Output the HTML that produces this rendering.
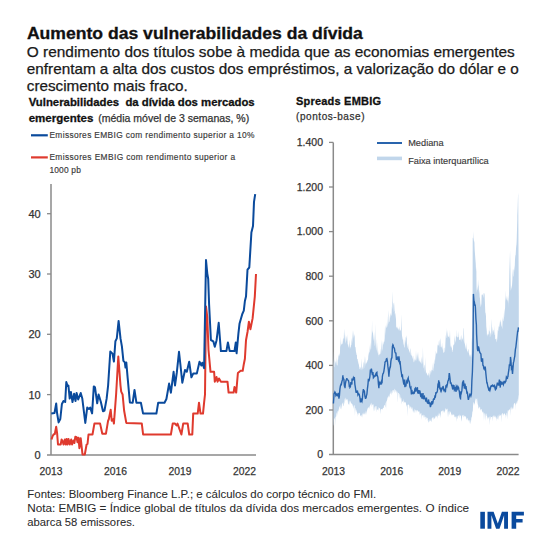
<!DOCTYPE html>
<html><head><meta charset="utf-8"><style>html,body{margin:0;padding:0;background:#fff;width:550px;height:550px;overflow:hidden}svg{display:block}</style></head>
<body><svg width="550" height="550" viewBox="0 0 550 550" font-family="Liberation Sans"><text x="26.9" y="38.6" font-size="16.5" font-weight="bold" fill="#111" text-anchor="start" textLength="336" lengthAdjust="spacingAndGlyphs" stroke="#111" stroke-width="0.3">Aumento das vulnerabilidades da dívida</text>
<text x="26.8" y="56.9" font-size="14.2" font-weight="normal" fill="#1a1a1a" text-anchor="start" textLength="488" lengthAdjust="spacingAndGlyphs" stroke="#1a1a1a" stroke-width="0.25">O rendimento dos títulos sobe à medida que as economias emergentes</text>
<text x="26.8" y="73.8" font-size="14.2" font-weight="normal" fill="#1a1a1a" text-anchor="start" textLength="492" lengthAdjust="spacingAndGlyphs" stroke="#1a1a1a" stroke-width="0.25">enfrentam a alta dos custos dos empréstimos, a valorização do dólar e o</text>
<text x="26.8" y="90.8" font-size="14.2" font-weight="normal" fill="#1a1a1a" text-anchor="start" textLength="161" lengthAdjust="spacingAndGlyphs" stroke="#1a1a1a" stroke-width="0.25">crescimento mais fraco.</text>
<text x="28.7" y="106.0" font-size="11.6" font-weight="bold" fill="#111" text-anchor="start" textLength="226" lengthAdjust="spacingAndGlyphs" stroke="#111" stroke-width="0.3">Vulnerabilidades&#160; da dívida dos mercados</text>
<text x="28.7" y="121.9" font-size="11.6" font-weight="bold" fill="#111" text-anchor="start" textLength="64.7" lengthAdjust="spacingAndGlyphs" stroke="#111" stroke-width="0.3">emergentes</text>
<text x="98.2" y="121.9" font-size="10.6" font-weight="normal" fill="#333" text-anchor="start" textLength="151" lengthAdjust="spacingAndGlyphs" stroke="#333" stroke-width="0.25">(média móvel de 3 semanas, %)</text>
<line x1="31" y1="135.3" x2="47.8" y2="135.3" stroke="#0a4a9c" stroke-width="2.2"/>
<line x1="31" y1="157.4" x2="47.8" y2="157.4" stroke="#df3a2e" stroke-width="2.2"/>
<text x="49.4" y="138.1" font-size="8.4" font-weight="normal" fill="#383838" text-anchor="start" textLength="205" lengthAdjust="spacing" stroke="#383838" stroke-width="0.15">Emissores EMBIG com rendimento superior a 10%</text>
<text x="49.4" y="160.1" font-size="8.4" font-weight="normal" fill="#383838" text-anchor="start" textLength="185.7" lengthAdjust="spacing" stroke="#383838" stroke-width="0.15">Emissores EMBIG com rendimento superior a</text>
<text x="49.4" y="173.1" font-size="8.4" font-weight="normal" fill="#383838" text-anchor="start" textLength="31.5" lengthAdjust="spacing" stroke="#383838" stroke-width="0.15">1000 pb</text>
<text x="296" y="105.2" font-size="11" font-weight="bold" fill="#111" text-anchor="start" textLength="85" lengthAdjust="spacing" stroke="#111" stroke-width="0.3">Spreads EMBIG</text>
<text x="296" y="119.8" font-size="10" font-weight="normal" fill="#333" text-anchor="start" textLength="68.5" lengthAdjust="spacing" stroke="#333" stroke-width="0.25">(pontos-base)</text>
<line x1="377" y1="143" x2="402" y2="143" stroke="#2964ad" stroke-width="2"/>
<rect x="377" y="156.6" width="25" height="3.6" fill="#c1d6eb"/>
<text x="408.2" y="145.5" font-size="9.2" font-weight="normal" fill="#383838" text-anchor="start" textLength="35.4" lengthAdjust="spacing" stroke="#383838" stroke-width="0.15">Mediana</text>
<text x="408.2" y="164.2" font-size="9.2" font-weight="normal" fill="#383838" text-anchor="start" textLength="80.5" lengthAdjust="spacing" stroke="#383838" stroke-width="0.15">Faixa interquartílica</text>
<line x1="51" y1="184" x2="51" y2="455" stroke="#8a8a8a" stroke-width="1.5"/>
<line x1="47" y1="454.9" x2="256" y2="454.9" stroke="#8a8a8a" stroke-width="1.5"/>
<text x="40.7" y="458.79999999999995" font-size="11" font-weight="normal" fill="#333" text-anchor="end" stroke="#333" stroke-width="0.25">0</text>
<line x1="47" y1="394.6" x2="51" y2="394.6" stroke="#8a8a8a" stroke-width="1.3"/>
<text x="40.7" y="398.49999999999994" font-size="11" font-weight="normal" fill="#333" text-anchor="end" stroke="#333" stroke-width="0.25">10</text>
<line x1="47" y1="334.3" x2="51" y2="334.3" stroke="#8a8a8a" stroke-width="1.3"/>
<text x="40.7" y="338.19999999999993" font-size="11" font-weight="normal" fill="#333" text-anchor="end" stroke="#333" stroke-width="0.25">20</text>
<line x1="47" y1="274.0" x2="51" y2="274.0" stroke="#8a8a8a" stroke-width="1.3"/>
<text x="40.7" y="277.9" font-size="11" font-weight="normal" fill="#333" text-anchor="end" stroke="#333" stroke-width="0.25">30</text>
<line x1="47" y1="213.7" x2="51" y2="213.7" stroke="#8a8a8a" stroke-width="1.3"/>
<text x="40.7" y="217.6" font-size="11" font-weight="normal" fill="#333" text-anchor="end" stroke="#333" stroke-width="0.25">40</text>
<text x="51.1" y="475" font-size="11.5" font-weight="normal" fill="#333" text-anchor="middle" textLength="23" lengthAdjust="spacingAndGlyphs" stroke="#333" stroke-width="0.25">2013</text>
<text x="115.6" y="475" font-size="11.5" font-weight="normal" fill="#333" text-anchor="middle" textLength="23" lengthAdjust="spacingAndGlyphs" stroke="#333" stroke-width="0.25">2016</text>
<text x="180.1" y="475" font-size="11.5" font-weight="normal" fill="#333" text-anchor="middle" textLength="23" lengthAdjust="spacingAndGlyphs" stroke="#333" stroke-width="0.25">2019</text>
<text x="244.6" y="475" font-size="11.5" font-weight="normal" fill="#333" text-anchor="middle" textLength="23" lengthAdjust="spacingAndGlyphs" stroke="#333" stroke-width="0.25">2022</text>
<line x1="333.3" y1="142.4" x2="333.3" y2="455" stroke="#8a8a8a" stroke-width="1.5"/>
<line x1="329" y1="454.6" x2="518.6" y2="454.6" stroke="#8a8a8a" stroke-width="1.5"/>
<text x="323" y="458.40000000000003" font-size="10.5" font-weight="normal" fill="#333" text-anchor="end" stroke="#333" stroke-width="0.25">0</text>
<line x1="329" y1="410.0" x2="333.3" y2="410.0" stroke="#8a8a8a" stroke-width="1.3"/>
<text x="323" y="413.8" font-size="10.5" font-weight="normal" fill="#333" text-anchor="end" stroke="#333" stroke-width="0.25">200</text>
<line x1="329" y1="365.4" x2="333.3" y2="365.4" stroke="#8a8a8a" stroke-width="1.3"/>
<text x="323" y="369.20000000000005" font-size="10.5" font-weight="normal" fill="#333" text-anchor="end" stroke="#333" stroke-width="0.25">400</text>
<line x1="329" y1="320.8" x2="333.3" y2="320.8" stroke="#8a8a8a" stroke-width="1.3"/>
<text x="323" y="324.6" font-size="10.5" font-weight="normal" fill="#333" text-anchor="end" stroke="#333" stroke-width="0.25">600</text>
<line x1="329" y1="276.2" x2="333.3" y2="276.2" stroke="#8a8a8a" stroke-width="1.3"/>
<text x="323" y="280.00000000000006" font-size="10.5" font-weight="normal" fill="#333" text-anchor="end" stroke="#333" stroke-width="0.25">800</text>
<line x1="329" y1="231.6" x2="333.3" y2="231.6" stroke="#8a8a8a" stroke-width="1.3"/>
<text x="323" y="235.40000000000003" font-size="10.5" font-weight="normal" fill="#333" text-anchor="end" stroke="#333" stroke-width="0.25">1.000</text>
<line x1="329" y1="187.0" x2="333.3" y2="187.0" stroke="#8a8a8a" stroke-width="1.3"/>
<text x="323" y="190.8" font-size="10.5" font-weight="normal" fill="#333" text-anchor="end" stroke="#333" stroke-width="0.25">1.200</text>
<line x1="329" y1="142.4" x2="333.3" y2="142.4" stroke="#8a8a8a" stroke-width="1.3"/>
<text x="323" y="146.20000000000005" font-size="10.5" font-weight="normal" fill="#333" text-anchor="end" stroke="#333" stroke-width="0.25">1.400</text>
<text x="333.6" y="475" font-size="11" font-weight="normal" fill="#333" text-anchor="middle" textLength="23" lengthAdjust="spacingAndGlyphs" stroke="#333" stroke-width="0.25">2013</text>
<text x="391.70000000000005" y="475" font-size="11" font-weight="normal" fill="#333" text-anchor="middle" textLength="23" lengthAdjust="spacingAndGlyphs" stroke="#333" stroke-width="0.25">2016</text>
<text x="449.8" y="475" font-size="11" font-weight="normal" fill="#333" text-anchor="middle" textLength="23" lengthAdjust="spacingAndGlyphs" stroke="#333" stroke-width="0.25">2019</text>
<text x="507.90000000000003" y="475" font-size="11" font-weight="normal" fill="#333" text-anchor="middle" textLength="23" lengthAdjust="spacingAndGlyphs" stroke="#333" stroke-width="0.25">2022</text>
<polygon points="333.50,364.5 333.83,358.6 334.00,350.2 334.16,367.3 334.49,367.1 334.82,359.2 335.15,363.1 335.48,360.1 335.81,365.3 336.00,361.0 336.14,364.4 336.47,356.7 336.80,365.2 337.13,365.1 337.46,366.1 337.79,359.0 338.00,360.5 338.12,359.8 338.45,356.3 338.78,355.3 339.11,353.5 339.44,356.6 339.77,354.5 340.00,351.7 340.10,347.6 340.43,336.4 340.76,347.1 341.09,344.6 341.42,343.8 341.75,345.1 342.00,340.4 342.08,344.3 342.41,344.0 342.74,342.2 343.07,337.6 343.40,339.3 343.50,338.1 343.73,341.7 344.06,328.5 344.39,333.1 344.72,339.6 345.00,332.8 345.05,344.8 345.38,333.8 345.71,343.8 346.04,341.2 346.37,335.6 346.70,338.0 347.03,342.3 347.36,333.8 347.69,344.9 348.02,343.8 348.35,346.6 348.50,347.0 348.68,348.1 349.01,345.0 349.34,339.4 349.67,344.7 350.00,349.2 350.33,347.0 350.66,347.5 350.99,344.8 351.32,345.4 351.65,337.8 351.98,342.0 352.00,344.1 352.31,340.5 352.64,329.7 352.97,338.7 353.30,330.1 353.63,336.1 353.96,339.0 354.00,333.8 354.29,336.8 354.62,333.9 354.95,346.8 355.28,347.6 355.50,346.3 355.61,348.3 355.94,351.7 356.27,353.1 356.60,354.9 356.93,354.9 357.00,358.2 357.26,358.9 357.59,358.9 357.92,361.5 358.25,364.9 358.58,363.6 358.91,360.8 359.00,367.4 359.24,365.9 359.57,369.1 359.90,369.3 360.23,367.9 360.56,366.5 360.89,369.9 361.22,369.4 361.55,358.2 361.88,364.4 362.00,371.5 362.21,366.2 362.54,368.0 362.87,369.8 363.20,361.5 363.53,362.9 363.86,369.2 364.19,367.8 364.52,355.6 364.85,362.4 365.00,364.2 365.18,362.8 365.51,366.8 365.84,356.1 366.17,364.2 366.50,362.8 366.83,362.6 367.16,362.0 367.49,359.5 367.82,360.7 368.00,360.0 368.15,358.5 368.48,352.4 368.81,355.9 369.14,344.8 369.47,352.3 369.80,352.7 370.13,350.1 370.46,348.4 370.79,342.1 371.00,349.9 371.12,347.7 371.45,338.0 371.78,333.6 372.11,319.8 372.20,331.5 372.44,333.6 372.77,330.1 373.10,335.0 373.43,341.2 373.76,337.9 374.00,332.4 374.09,343.3 374.42,331.0 374.75,346.0 375.00,345.2 375.08,343.3 375.41,323.1 375.74,348.8 376.07,338.6 376.40,346.3 376.73,349.5 377.06,351.2 377.39,353.9 377.72,341.6 378.05,355.3 378.38,354.8 378.71,349.8 378.80,357.3 379.04,353.4 379.37,354.2 379.70,355.4 380.03,353.5 380.36,348.2 380.69,354.4 381.02,353.6 381.35,348.7 381.68,343.8 382.01,339.8 382.34,349.1 382.60,350.4 382.67,351.6 383.00,341.1 383.33,343.7 383.66,344.9 383.99,341.2 384.32,341.9 384.65,338.3 384.98,326.7 385.31,335.7 385.64,327.7 385.97,325.0 386.30,328.2 386.50,326.9 386.63,328.0 386.96,322.3 387.29,327.4 387.62,323.9 387.95,316.6 388.28,309.9 388.61,324.4 388.94,321.8 389.27,322.3 389.60,319.9 389.93,315.9 390.26,313.2 390.30,313.9 390.59,318.4 390.92,312.5 391.25,315.9 391.58,314.9 391.91,306.0 392.24,309.8 392.57,291.0 392.90,302.2 393.23,303.6 393.30,305.3 393.56,302.3 393.89,312.2 394.22,310.6 394.55,301.6 394.88,314.7 395.21,312.7 395.54,319.4 395.87,312.6 396.20,327.4 396.53,326.7 396.60,326.6 396.86,328.4 397.19,326.2 397.52,329.3 397.85,327.8 398.18,328.4 398.51,328.9 398.84,330.5 399.17,329.3 399.50,326.0 399.83,331.3 400.16,329.8 400.49,331.2 400.50,329.3 400.82,331.5 401.15,326.1 401.48,314.0 401.81,332.1 402.14,338.8 402.47,340.3 402.80,335.6 403.13,340.1 403.46,345.7 403.79,344.0 404.12,339.1 404.30,348.6 404.45,347.3 404.78,347.0 405.11,339.6 405.44,343.7 405.77,336.5 406.10,338.2 406.43,335.0 406.76,338.8 407.09,347.6 407.42,343.5 407.75,348.2 408.00,347.6 408.08,341.7 408.41,349.8 408.74,348.8 409.07,350.8 409.40,351.7 409.73,353.3 410.06,349.5 410.39,348.1 410.72,355.4 411.05,352.2 411.38,355.7 411.71,355.4 412.04,355.6 412.37,359.3 412.70,357.4 413.03,355.4 413.20,356.2 413.36,359.1 413.69,361.9 414.02,362.4 414.35,360.5 414.68,357.9 415.01,361.8 415.34,359.2 415.67,360.6 416.00,349.4 416.33,361.6 416.66,358.6 416.99,353.4 417.32,360.3 417.65,351.8 417.98,356.4 418.30,351.3 418.31,357.2 418.64,362.0 418.97,356.4 419.30,361.8 419.63,360.3 419.96,362.0 420.29,362.6 420.62,362.8 420.95,360.3 421.28,356.6 421.61,364.5 421.94,362.7 422.00,355.8 422.27,361.4 422.60,364.2 422.93,346.3 423.26,360.9 423.59,366.9 423.92,368.8 424.25,364.6 424.58,365.4 424.91,372.1 425.24,369.2 425.57,356.8 425.90,372.2 426.00,374.4 426.23,371.8 426.56,373.2 426.89,373.3 427.22,374.7 427.55,375.9 427.88,374.4 428.21,376.1 428.54,373.7 428.87,372.6 429.20,374.3 429.53,377.5 429.70,378.3 429.86,369.9 430.19,371.0 430.52,375.2 430.85,371.3 431.18,369.5 431.51,371.1 431.84,373.1 432.17,362.4 432.50,370.5 432.83,370.1 433.16,371.5 433.49,366.8 433.50,369.0 433.82,364.2 434.15,358.8 434.48,364.4 434.81,363.3 435.14,354.1 435.47,361.0 435.80,350.7 436.13,352.5 436.46,353.1 436.79,354.0 437.12,353.7 437.45,346.6 437.78,344.3 438.11,345.8 438.44,344.8 438.60,346.0 438.77,342.2 439.10,339.7 439.43,347.9 439.76,343.0 440.09,337.9 440.42,340.8 440.75,347.5 441.08,346.3 441.41,347.6 441.74,347.4 442.07,342.2 442.40,349.1 442.50,345.3 442.73,350.4 443.06,347.8 443.39,352.9 443.72,352.7 444.05,351.8 444.38,352.5 444.71,347.5 445.00,348.0 445.04,350.9 445.37,343.5 445.70,337.1 446.03,333.9 446.36,329.9 446.40,327.0 446.69,337.8 447.02,338.1 447.35,334.7 447.68,329.7 448.01,337.0 448.34,337.0 448.67,336.4 449.00,335.2 449.33,339.0 449.66,336.5 449.99,329.5 450.32,342.8 450.65,347.4 450.98,345.6 451.31,347.5 451.64,347.9 451.80,344.6 451.97,352.1 452.30,351.9 452.63,349.5 452.96,350.0 453.29,344.1 453.62,345.8 453.95,344.5 454.28,344.2 454.61,335.1 454.94,339.5 455.27,341.3 455.60,343.1 455.93,336.2 456.26,336.4 456.59,336.8 456.92,329.5 457.25,338.1 457.30,337.1 457.58,337.1 457.91,338.0 458.24,330.7 458.57,337.6 458.90,336.5 459.23,340.2 459.56,339.8 459.89,339.8 460.22,339.8 460.50,339.0 460.55,341.7 460.88,335.6 461.21,342.4 461.54,337.5 461.87,334.6 462.20,339.8 462.53,338.7 462.70,337.4 462.86,339.2 463.19,342.1 463.52,329.0 463.85,327.6 464.18,338.8 464.51,344.8 464.84,342.0 465.17,346.6 465.50,349.5 465.83,344.5 466.00,349.1 466.16,350.1 466.49,347.6 466.82,342.0 467.15,351.8 467.48,350.5 467.81,352.9 468.14,349.0 468.47,349.4 468.80,353.1 469.13,353.8 469.30,356.7 469.46,356.5 469.79,354.2 470.12,355.9 470.45,353.9 470.78,357.1 471.11,357.5 471.44,353.5 471.50,356.9 471.77,337.0 472.10,344.2 472.43,329.5 472.50,334.0 472.70,237.9 472.76,237.7 473.09,238.1 473.42,241.5 473.75,231.1 474.08,242.8 474.41,240.5 474.50,245.2 474.74,250.8 475.07,254.9 475.40,259.4 475.73,263.6 476.06,271.5 476.39,266.8 476.40,276.3 476.60,290.8 476.72,293.0 477.05,286.8 477.38,289.5 477.71,290.5 478.04,279.4 478.37,285.0 478.70,286.6 478.80,288.7 479.03,293.8 479.36,289.3 479.69,297.1 480.02,298.7 480.35,303.4 480.68,306.1 481.00,307.4 481.01,305.9 481.34,303.7 481.67,294.3 482.00,295.3 482.33,294.0 482.66,294.8 482.99,295.8 483.32,298.3 483.65,293.3 483.98,293.0 484.00,293.2 484.31,293.3 484.64,294.9 484.97,304.1 485.30,312.6 485.40,312.6 485.63,313.3 485.96,316.0 486.29,326.6 486.62,329.4 486.80,331.3 486.95,335.6 487.28,333.7 487.61,336.7 487.94,333.5 488.27,334.1 488.60,335.4 488.93,329.4 489.26,331.9 489.59,330.3 489.70,324.0 489.92,337.6 490.25,336.2 490.58,332.2 490.91,334.2 491.24,318.6 491.57,326.0 491.90,335.5 492.23,333.6 492.56,326.2 492.89,331.3 493.22,329.4 493.40,332.5 493.55,332.6 493.88,329.5 494.21,334.7 494.54,335.1 494.87,325.0 495.20,338.5 495.53,339.4 495.86,338.9 496.19,339.3 496.30,337.4 496.52,340.8 496.85,342.4 497.18,339.3 497.51,334.8 497.84,329.6 498.17,331.6 498.50,328.1 498.83,325.9 499.16,327.0 499.20,322.6 499.49,327.6 499.82,322.9 500.15,319.2 500.48,321.5 500.81,322.0 501.14,326.8 501.47,326.4 501.80,324.3 502.10,318.7 502.13,329.5 502.46,327.3 502.79,316.5 503.12,321.5 503.45,320.8 503.60,312.0 503.78,319.9 504.11,317.1 504.44,313.1 504.77,310.1 505.10,307.8 505.43,290.1 505.76,300.9 505.80,300.5 506.09,295.2 506.42,300.2 506.75,298.9 507.08,296.3 507.41,300.6 507.74,300.3 508.07,303.6 508.40,294.7 508.70,308.4 508.73,302.8 509.06,291.2 509.39,272.3 509.72,261.4 510.00,251.9 510.05,250.5 510.38,267.3 510.71,287.8 510.80,290.5 511.04,290.2 511.37,284.9 511.60,289.0 511.70,288.5 512.03,285.4 512.36,279.9 512.69,268.3 513.02,275.8 513.35,277.0 513.68,268.6 514.01,271.1 514.34,265.3 514.50,272.7 514.67,268.9 515.00,259.5 515.33,255.5 515.66,255.1 515.99,249.1 516.32,245.1 516.40,245.6 516.65,241.5 516.98,230.5 517.30,219.3 517.31,215.2 517.64,208.1 517.97,196.6 518.20,192.8 518.30,207.2 518.63,272.5 518.80,296.1 518.80,395.2 518.63,395.2 518.30,398.9 517.97,400.9 517.64,398.2 517.60,401.0 517.31,401.6 516.98,404.6 516.65,401.2 516.32,403.4 515.99,403.7 515.66,405.7 515.40,401.7 515.33,410.8 515.00,402.5 514.67,403.4 514.34,403.2 514.01,403.5 513.68,405.0 513.35,409.5 513.02,406.5 512.69,409.5 512.36,407.5 512.03,410.0 511.70,406.3 511.37,408.0 511.04,410.5 511.00,408.6 510.71,416.1 510.38,406.9 510.05,408.7 509.72,408.9 509.39,409.9 509.06,410.0 508.73,411.9 508.40,409.9 508.07,410.2 507.74,410.4 507.41,419.9 507.08,413.2 506.75,412.6 506.42,417.3 506.09,412.8 505.76,419.1 505.60,415.2 505.43,414.7 505.10,414.8 504.77,413.0 504.44,413.6 504.11,413.9 503.78,414.7 503.45,413.4 503.12,416.2 502.79,412.8 502.46,413.4 502.13,413.2 501.80,423.0 501.47,413.5 501.14,414.7 500.81,415.5 500.48,415.7 500.15,414.8 499.82,414.2 499.49,416.3 499.16,416.2 498.83,414.5 498.50,420.5 498.17,416.7 497.84,415.3 497.51,419.2 497.18,418.4 496.85,421.7 496.80,417.8 496.52,419.7 496.19,417.0 495.86,416.4 495.53,418.2 495.20,415.4 494.87,416.6 494.54,417.5 494.21,414.8 493.88,417.9 493.55,415.1 493.22,415.9 492.89,416.8 492.56,416.0 492.23,421.4 491.90,417.0 491.57,416.9 491.24,417.0 490.91,417.2 490.58,420.5 490.25,416.1 489.92,416.9 489.59,416.3 489.26,425.5 488.93,417.7 488.60,417.1 488.27,417.7 488.10,418.9 487.94,418.5 487.61,416.5 487.28,420.5 486.95,413.8 486.70,413.5 486.62,415.8 486.29,416.2 485.96,412.8 485.63,421.1 485.30,415.1 484.97,413.1 484.64,413.2 484.31,414.9 483.98,421.0 483.70,413.4 483.65,414.2 483.32,411.2 482.99,413.3 482.66,412.1 482.33,411.4 482.00,411.6 481.67,409.2 481.34,409.2 481.01,409.0 480.68,410.8 480.35,408.9 480.20,409.4 480.02,406.6 479.69,408.4 479.36,406.5 479.03,406.9 478.70,408.5 478.37,408.4 478.30,406.7 478.04,404.7 477.71,404.4 477.38,401.4 477.05,397.7 477.00,398.7 476.72,399.0 476.39,398.6 476.06,403.5 475.73,398.0 475.40,399.1 475.07,401.1 474.74,405.8 474.41,402.8 474.08,404.2 473.75,401.8 473.60,402.3 473.42,403.1 473.09,405.4 472.76,411.8 472.43,411.3 472.10,414.9 471.77,417.4 471.50,417.3 471.44,417.1 471.11,420.7 470.78,419.9 470.45,424.6 470.12,422.3 469.79,420.4 469.46,419.6 469.30,421.7 469.13,423.7 468.80,420.3 468.47,419.6 468.14,421.0 467.81,420.1 467.48,417.7 467.15,418.5 466.82,418.8 466.49,420.5 466.16,417.5 465.83,416.5 465.50,415.7 465.17,417.7 465.00,416.0 464.84,417.0 464.51,415.3 464.18,416.7 463.85,414.6 463.52,415.6 463.19,417.8 462.86,415.9 462.53,415.2 462.20,414.7 461.87,418.8 461.54,421.7 461.21,419.8 460.88,415.9 460.55,415.2 460.22,415.7 460.00,415.7 459.89,413.6 459.56,418.5 459.23,415.6 458.90,414.8 458.57,416.2 458.24,415.6 457.91,418.7 457.58,418.7 457.25,415.7 456.92,416.6 456.59,422.0 456.26,416.5 456.20,416.1 455.93,417.4 455.60,415.8 455.27,417.6 454.94,416.9 454.61,417.3 454.28,415.4 453.95,414.1 453.62,415.3 453.29,415.1 452.96,413.3 452.63,414.9 452.30,415.4 451.97,414.4 451.80,414.8 451.64,413.7 451.31,415.9 450.98,412.2 450.65,411.3 450.32,412.5 449.99,413.0 449.66,415.5 449.33,411.0 449.00,411.4 448.67,411.4 448.34,417.5 448.01,411.3 447.68,417.8 447.50,408.8 447.35,408.5 447.02,409.2 446.69,409.7 446.36,409.4 446.03,408.4 445.70,408.3 445.37,409.3 445.04,411.1 444.71,411.5 444.38,413.3 444.05,410.7 443.72,412.7 443.39,409.9 443.06,411.0 443.00,415.0 442.73,410.0 442.40,410.8 442.07,411.1 441.74,411.2 441.41,411.7 441.08,410.8 440.75,414.0 440.42,418.3 440.09,414.7 439.76,414.1 439.43,412.4 439.10,416.6 438.77,414.1 438.70,411.9 438.44,415.6 438.11,416.2 437.78,414.3 437.45,419.0 437.12,416.4 436.79,416.2 436.46,415.4 436.13,417.3 435.80,417.7 435.47,415.3 435.14,417.0 434.81,419.0 434.48,418.5 434.40,419.1 434.15,417.6 433.82,417.1 433.49,417.7 433.16,420.0 432.83,418.2 432.50,417.1 432.17,418.0 431.84,418.3 431.51,421.5 431.18,422.1 430.85,418.7 430.52,421.3 430.19,420.4 430.00,421.2 429.86,420.4 429.53,422.2 429.20,418.7 428.87,419.8 428.54,421.9 428.21,422.8 427.88,420.8 427.55,417.7 427.22,418.0 426.89,417.3 426.56,419.2 426.23,416.4 425.90,420.2 425.57,416.2 425.24,417.1 424.91,416.5 424.58,418.1 424.25,414.9 423.92,414.7 423.59,418.3 423.26,414.3 423.00,415.6 422.93,414.6 422.60,415.8 422.27,415.4 421.94,415.0 421.61,420.1 421.28,413.0 420.95,413.2 420.62,414.4 420.29,412.4 419.96,415.6 419.63,413.4 419.30,411.2 418.97,411.4 418.64,411.3 418.31,411.7 417.98,411.8 417.70,409.9 417.65,410.3 417.32,409.9 416.99,411.7 416.66,410.2 416.33,410.1 416.00,413.4 415.67,409.8 415.34,409.8 415.01,411.1 414.68,413.5 414.35,408.4 414.02,410.0 413.69,410.8 413.36,411.8 413.03,413.0 412.70,408.6 412.37,407.1 412.20,411.8 412.04,406.6 411.71,408.5 411.38,409.4 411.05,406.4 410.72,406.4 410.39,406.7 410.06,408.6 409.73,408.5 409.40,405.9 409.07,405.0 408.74,404.9 408.41,404.5 408.08,403.9 407.75,416.5 407.42,405.1 407.09,404.7 406.80,404.4 406.76,404.9 406.43,406.9 406.10,405.2 405.77,401.7 405.44,403.1 405.11,401.9 404.78,402.8 404.45,402.3 404.12,401.6 403.79,401.1 403.46,398.4 403.13,403.7 402.80,400.4 402.47,401.9 402.14,401.2 401.81,404.8 401.48,399.8 401.30,398.3 401.15,397.8 400.82,397.3 400.49,399.7 400.16,395.6 399.83,394.3 399.50,393.4 399.17,399.5 398.84,392.8 398.51,392.9 398.18,393.1 397.85,403.3 397.52,392.9 397.19,391.4 396.86,391.3 396.53,393.7 396.20,390.0 396.00,391.6 395.87,392.4 395.54,389.2 395.21,390.7 394.88,389.3 394.55,388.5 394.22,393.0 393.89,391.7 393.56,390.2 393.23,390.1 392.90,390.2 392.57,390.2 392.24,393.4 391.91,392.2 391.58,395.6 391.25,391.4 390.92,389.9 390.59,394.5 390.40,392.0 390.26,393.7 389.93,393.5 389.60,395.4 389.27,397.8 388.94,395.6 388.61,395.7 388.28,397.3 387.95,397.8 387.62,397.1 387.29,399.2 386.96,400.2 386.63,401.6 386.30,401.4 386.00,410.7 385.97,402.3 385.64,403.3 385.31,407.8 384.98,406.2 384.65,405.3 384.32,404.8 383.99,405.4 383.66,408.2 383.33,407.7 383.00,408.1 382.67,409.3 382.34,409.7 382.01,408.3 382.00,409.5 381.68,409.0 381.35,408.9 381.02,409.2 380.69,409.5 380.36,414.2 380.03,409.2 379.70,408.2 379.37,407.7 379.04,407.9 378.71,411.3 378.38,407.7 378.05,406.7 378.00,408.4 377.72,410.0 377.39,409.9 377.06,408.6 376.73,412.7 376.40,406.5 376.07,405.8 375.74,406.2 375.41,406.5 375.08,409.9 374.75,411.1 374.42,406.3 374.09,407.4 373.76,411.9 373.43,404.3 373.10,404.6 372.77,404.6 372.44,404.4 372.11,405.5 372.00,407.4 371.78,405.9 371.45,403.8 371.12,402.4 370.79,404.0 370.46,404.7 370.13,405.5 369.80,406.1 369.47,407.0 369.14,409.1 368.81,407.0 368.48,408.2 368.15,406.5 368.00,408.9 367.82,410.2 367.49,407.9 367.16,408.4 366.83,415.3 366.50,410.5 366.17,412.0 365.84,415.3 365.51,410.6 365.18,413.2 365.00,413.5 364.85,415.0 364.52,412.0 364.19,414.7 363.86,412.2 363.53,414.3 363.20,414.5 362.87,413.5 362.54,418.1 362.21,412.6 361.88,415.8 361.55,414.5 361.22,417.4 361.00,415.5 360.89,416.8 360.56,415.0 360.23,416.3 359.90,413.5 359.57,413.3 359.24,412.8 358.91,412.9 358.58,415.4 358.25,412.5 358.00,413.3 357.92,417.2 357.59,412.9 357.26,414.3 356.93,410.9 356.60,412.8 356.27,409.3 355.94,410.8 355.61,408.1 355.28,408.3 354.95,415.9 354.62,406.3 354.29,405.1 354.00,405.3 353.96,409.8 353.63,405.2 353.30,408.8 352.97,404.3 352.64,404.1 352.31,406.4 351.98,404.2 351.65,403.2 351.32,403.3 350.99,403.7 350.66,400.6 350.33,402.8 350.00,400.3 349.67,401.7 349.34,405.7 349.01,400.3 348.68,405.3 348.35,403.7 348.02,404.1 347.69,399.0 347.36,399.2 347.03,401.0 346.70,399.2 346.37,399.7 346.04,398.5 346.00,397.6 345.71,397.9 345.38,401.3 345.05,398.3 344.72,398.9 344.39,402.5 344.06,403.8 343.73,406.3 343.40,406.1 343.07,401.5 342.74,404.6 342.41,402.5 342.08,404.0 342.00,410.2 341.75,405.5 341.42,409.8 341.09,403.9 340.76,404.9 340.43,408.2 340.10,409.3 339.77,407.2 339.44,406.3 339.11,406.5 339.00,412.5 338.78,411.2 338.45,408.6 338.12,411.1 337.79,411.1 337.46,416.1 337.13,410.9 336.80,413.1 336.47,413.8 336.14,417.6 336.00,415.3 335.81,426.4 335.48,417.3 335.15,416.4 334.82,419.3 334.49,417.8 334.16,419.2 334.00,420.0 333.83,424.4 333.50,426.0" fill="#c1d6eb"/>
<polyline points="333.40,403.5 333.90,396.5 334.00,393.7 334.40,393.3 334.90,392.0 335.40,393.0 335.90,395.3 336.40,394.2 336.90,395.0 337.00,393.6 337.40,394.6 337.90,395.2 338.40,392.8 338.90,398.0 339.00,398.0 339.40,395.8 339.90,389.1 340.40,385.9 340.90,384.6 341.00,385.0 341.40,384.4 341.90,381.5 342.40,379.9 342.90,375.4 343.00,376.4 343.40,378.8 343.90,379.4 344.40,386.0 344.90,386.8 345.00,388.3 345.40,383.5 345.90,381.0 346.40,379.6 346.90,378.1 347.00,379.1 347.40,379.8 347.90,380.0 348.40,380.4 348.90,382.6 349.40,387.3 349.90,385.5 350.00,387.3 350.40,386.8 350.90,382.1 351.40,383.3 351.90,384.6 352.00,378.6 352.40,380.3 352.90,379.9 353.40,377.7 353.90,378.9 354.00,378.0 354.40,377.8 354.90,384.6 355.40,387.7 355.90,391.2 356.00,392.8 356.40,391.7 356.90,392.1 357.40,390.5 357.90,394.7 358.40,393.8 358.90,394.9 359.00,393.6 359.40,395.2 359.90,397.5 360.40,402.4 360.90,398.3 361.00,399.0 361.40,400.8 361.90,401.6 362.40,398.6 362.90,392.4 363.40,389.1 363.90,392.5 364.00,390.7 364.40,391.1 364.90,396.2 365.40,398.3 365.90,398.2 366.00,398.5 366.40,395.8 366.90,394.2 367.40,388.9 367.90,384.8 368.00,384.1 368.40,378.7 368.90,381.4 369.40,379.3 369.90,376.5 370.40,370.0 370.90,369.9 371.00,372.4 371.40,368.5 371.90,371.9 372.40,375.1 372.90,372.0 373.40,377.7 373.90,377.1 374.00,375.9 374.40,376.2 374.90,376.3 375.40,374.9 375.90,376.2 376.40,372.6 376.90,372.3 377.00,374.8 377.40,375.8 377.90,377.3 378.40,383.6 378.90,388.1 379.00,385.5 379.40,382.8 379.90,384.0 380.40,383.3 380.90,382.3 381.40,384.5 381.90,379.6 382.00,383.1 382.40,376.4 382.90,373.7 383.40,373.1 383.90,371.1 384.40,367.6 384.90,363.4 385.00,362.3 385.40,361.5 385.90,361.3 386.40,359.0 386.90,358.7 387.00,359.1 387.40,361.2 387.90,366.4 388.40,370.1 388.90,376.6 389.00,374.6 389.40,370.7 389.90,367.8 390.00,367.9 390.40,366.8 390.90,361.1 391.40,358.6 391.90,357.7 392.40,346.5 392.90,344.7 393.20,345.2 393.40,346.4 393.90,347.8 394.40,348.3 394.90,351.7 395.40,352.9 395.90,353.1 396.40,359.9 396.90,358.3 397.30,357.7 397.40,358.5 397.90,359.1 398.40,360.2 398.90,356.3 399.40,360.7 399.90,364.5 400.00,361.1 400.40,365.1 400.90,370.0 401.40,373.0 401.90,377.1 402.40,374.4 402.70,378.1 402.90,378.9 403.40,382.2 403.90,384.7 404.40,379.5 404.90,387.2 405.40,384.7 405.90,386.5 406.40,381.2 406.90,382.2 407.40,382.6 407.90,378.7 408.20,378.0 408.40,379.9 408.90,380.7 409.40,382.1 409.90,386.8 410.40,388.1 410.90,387.4 411.40,394.5 411.90,389.9 412.20,394.1 412.40,392.2 412.90,392.5 413.40,393.3 413.90,392.3 414.40,392.8 414.90,388.7 415.40,388.1 415.90,391.7 416.40,389.0 416.90,388.4 417.40,387.3 417.70,392.0 417.90,391.8 418.40,393.7 418.90,390.1 419.40,392.0 419.90,390.7 420.40,394.6 420.90,397.0 421.40,393.4 421.90,398.0 422.40,398.0 422.90,396.5 423.00,393.1 423.40,399.2 423.90,397.4 424.40,396.6 424.90,398.7 425.40,399.3 425.90,401.6 426.40,397.6 426.90,401.4 427.40,402.8 427.90,403.2 428.40,400.6 428.60,399.5 428.90,403.1 429.40,402.8 429.90,403.7 430.40,407.1 430.90,405.3 431.30,402.1 431.40,404.9 431.90,401.2 432.40,404.3 432.90,402.5 433.40,399.4 433.90,398.9 434.40,399.1 434.90,396.3 435.40,396.7 435.90,392.8 436.40,392.9 436.90,392.3 437.40,390.9 437.90,385.2 438.40,386.0 438.70,380.3 438.90,382.0 439.40,382.3 439.90,389.5 440.40,387.7 440.90,391.4 441.00,391.6 441.40,390.6 441.90,388.0 442.40,387.8 442.90,389.2 443.00,386.0 443.40,387.9 443.90,390.4 444.40,389.9 444.90,389.4 445.00,390.8 445.40,392.3 445.90,385.7 446.40,385.2 446.90,386.3 447.40,384.3 447.90,381.0 448.40,380.4 448.90,377.4 449.20,373.7 449.40,373.7 449.90,377.6 450.40,382.9 450.90,382.8 451.40,384.2 451.80,386.2 451.90,385.0 452.40,387.7 452.90,386.4 453.40,389.4 453.90,385.1 454.40,389.9 454.90,388.9 455.40,386.8 455.90,391.7 456.20,390.6 456.40,386.5 456.90,387.5 457.40,388.7 457.90,386.5 458.40,387.5 458.50,387.5 458.90,389.7 459.40,391.9 459.90,396.6 460.40,398.5 460.50,398.6 460.90,391.2 461.40,392.6 461.90,390.4 462.40,384.2 462.70,381.5 462.90,386.0 463.40,380.3 463.90,384.3 464.40,388.7 464.90,383.6 465.40,386.5 465.90,389.4 466.00,386.1 466.40,389.3 466.90,392.9 467.40,392.6 467.90,396.7 468.20,399.2 468.40,399.9 468.90,397.6 469.40,396.4 469.90,394.1 470.40,394.3 470.90,395.8 471.40,393.8 471.50,391.8 471.90,380.1 472.40,372.0 472.90,355.4 473.00,351.4 473.40,293.9 473.90,300.5 474.40,302.2 474.90,305.8 475.20,304.6 475.40,307.6 475.90,318.9 476.40,325.0 476.60,334.1 476.90,340.1 477.20,345.0 477.40,348.9 477.90,351.1 478.40,346.4 478.90,348.2 479.40,351.0 479.90,352.7 480.40,353.3 480.90,353.9 481.40,361.0 481.90,361.3 482.40,358.9 482.60,358.9 482.90,365.2 483.40,365.9 483.90,368.8 484.40,368.6 484.80,366.6 484.90,369.0 485.40,368.3 485.90,373.9 486.40,378.8 486.90,383.5 487.00,382.1 487.40,384.2 487.90,386.8 488.40,388.3 488.90,390.2 489.20,390.4 489.40,389.1 489.90,390.3 490.40,388.5 490.90,386.2 491.40,385.7 491.90,386.2 492.40,385.4 492.50,385.8 492.90,385.8 493.40,386.5 493.90,386.4 494.40,384.7 494.90,387.8 495.40,389.6 495.80,389.0 495.90,387.6 496.40,388.1 496.90,385.1 497.40,382.6 497.90,385.4 498.40,383.4 498.90,385.7 499.00,382.6 499.40,379.7 499.90,382.5 500.30,387.6 500.40,384.5 500.90,381.9 501.40,382.2 501.90,384.1 502.40,383.8 502.90,382.7 503.40,384.5 503.90,382.8 504.40,380.8 504.60,381.6 504.90,383.3 505.40,381.8 505.90,381.2 506.40,377.0 506.90,377.8 507.40,379.0 507.50,377.2 507.90,376.7 508.40,372.7 508.90,369.7 509.40,364.3 509.90,365.7 510.40,360.4 510.50,356.9 510.90,360.2 511.40,368.4 511.90,367.4 512.40,372.8 512.50,373.9 512.90,369.1 513.40,362.9 513.90,361.2 514.40,357.8 514.80,356.1 514.90,354.8 515.40,349.4 515.90,346.8 516.40,342.4 516.90,337.8 517.40,333.5 517.70,330.6 517.90,331.8 518.40,327.8 518.70,327.7" fill="none" stroke="#2964ad" stroke-width="1.4" stroke-linejoin="miter"/>
<polyline points="51.50,439.5 52.50,436.4 53.50,434.5 54.80,434.0 56.20,426.8 57.10,433.2 58.00,444.5 60.70,444.5 61.60,439.5 62.50,441.0 63.50,444.5 64.80,439.5 65.70,444.5 66.60,439.0 67.50,444.5 68.50,439.0 69.80,444.5 71.20,439.5 72.10,444.5 73.50,440.5 74.40,443.0 75.30,436.8 76.60,437.3 77.50,442.3 78.50,437.7 79.40,448.2 80.70,438.2 82.50,454.5 84.80,454.5 86.60,444.5 87.50,444.0 88.50,434.5 92.50,434.5 94.40,423.6 100.10,423.6 102.30,433.8 105.90,433.8 108.10,420.7 108.80,419.3 110.70,409.8 111.70,420.7 113.20,419.3 113.90,423.6 116.10,394.5 118.30,356.5 120.50,385.6 121.20,391.6 122.60,394.5 124.10,410.5 126.30,422.9 141.80,423.6 143.10,434.5 170.90,434.5 172.70,423.6 175.00,423.6 176.50,425.5 177.50,423.6 181.40,434.5 183.20,423.6 187.70,423.6 189.20,434.5 192.30,434.5 193.20,413.6 197.70,413.6 199.00,402.7 200.50,413.6 203.00,413.6 204.10,402.7 205.00,394.5 206.00,306.4 207.30,317.3 208.50,350.0 210.50,371.8 214.10,371.8 214.80,381.7 216.50,377.0 217.60,381.7 219.00,378.5 220.90,381.7 227.50,381.7 228.60,392.6 233.60,392.6 234.50,387.0 236.20,392.6 237.90,373.0 240.60,370.8 242.70,370.8 243.80,364.2 244.90,358.8 246.00,340.2 247.60,331.5 248.90,321.7 250.40,329.3 252.60,318.4 254.80,296.6 256.00,274.0" fill="none" stroke="#df3a2e" stroke-width="2" stroke-linejoin="round"/>
<polyline points="51.30,413.4 54.50,413.0 56.20,403.5 57.00,412.5 58.60,422.4 60.30,419.0 61.90,404.0 63.50,401.0 65.20,402.0 66.30,382.0 67.60,386.0 68.40,385.5 69.70,398.6 70.90,392.0 72.50,402.0 74.10,393.7 75.50,401.0 76.60,393.0 78.20,399.5 80.70,393.0 82.30,398.6 85.30,423.0 87.20,407.6 88.90,409.0 90.20,407.6 92.10,413.4 93.80,386.4 95.00,387.3 97.20,403.3 98.60,394.5 100.80,401.8 103.00,411.3 104.50,410.5 106.60,398.9 108.10,385.6 110.30,351.5 112.50,353.6 113.90,361.6 115.40,341.3 116.80,338.4 118.60,320.9 120.50,338.4 121.90,346.4 123.40,360.9 124.80,362.4 125.50,367.5 126.30,362.4 127.70,378.4 129.90,402.5 132.70,402.7 134.50,390.0 136.40,402.7 140.90,402.7 143.10,413.6 156.40,413.6 158.20,402.7 164.50,402.7 166.40,399.0 169.10,383.6 170.90,392.7 173.60,371.8 175.00,385.5 176.80,372.7 179.00,351.8 180.50,365.5 182.30,382.7 185.00,370.0 186.80,371.8 189.20,361.8 191.40,377.3 193.20,373.6 196.80,373.6 199.50,361.8 201.40,365.5 202.30,362.7 204.10,368.2 206.00,260.0 207.30,273.6 208.20,279.0 209.10,304.5 210.90,340.0 213.30,341.3 214.80,346.8 216.60,340.2 218.70,322.8 220.90,351.1 226.40,351.1 227.90,342.4 229.70,351.1 234.50,351.1 235.80,342.4 236.60,353.3 238.40,333.7 239.50,323.8 242.30,314.0 243.80,310.7 244.90,301.0 246.00,296.6 247.50,269.7 249.30,267.5 251.40,232.5 253.00,226.0 254.00,201.9 255.20,194.2" fill="none" stroke="#0a4a9c" stroke-width="2" stroke-linejoin="round"/>
<text x="27.3" y="497.8" font-size="11.3" font-weight="normal" fill="#2a2a2a" text-anchor="start" textLength="349" lengthAdjust="spacingAndGlyphs" stroke="#2a2a2a" stroke-width="0.05">Fontes: Bloomberg Finance L.P.; e cálculos do corpo técnico do FMI.</text>
<text x="27.3" y="512.3" font-size="11.3" font-weight="normal" fill="#2a2a2a" text-anchor="start" textLength="441.7" lengthAdjust="spacingAndGlyphs" stroke="#2a2a2a" stroke-width="0.05">Nota: EMBIG = Índice global de títulos da dívida dos mercados emergentes. O índice</text>
<text x="27.3" y="525.8" font-size="11.3" font-weight="normal" fill="#2a2a2a" text-anchor="start" textLength="107.6" lengthAdjust="spacingAndGlyphs" stroke="#2a2a2a" stroke-width="0.05">abarca 58 emissores.</text>
<g fill="#0a4a9e"><rect x="480.3" y="511.8" width="4.6" height="16.9"/><polygon points="487.5,528.7 487.5,511.8 493.6,511.8 497.8,523.6 501.9,511.8 508,511.8 508,528.7 504.1,528.7 504.1,515.2 499.5,528.7 496.1,528.7 491.4,515.2 491.4,528.7"/><polygon points="511.6,528.7 511.6,511.8 523.9,511.8 523.9,515.6 516.2,515.6 516.2,518.9 522.6,518.9 522.6,522.5 516.2,522.5 516.2,528.7"/></g></svg></body></html>
